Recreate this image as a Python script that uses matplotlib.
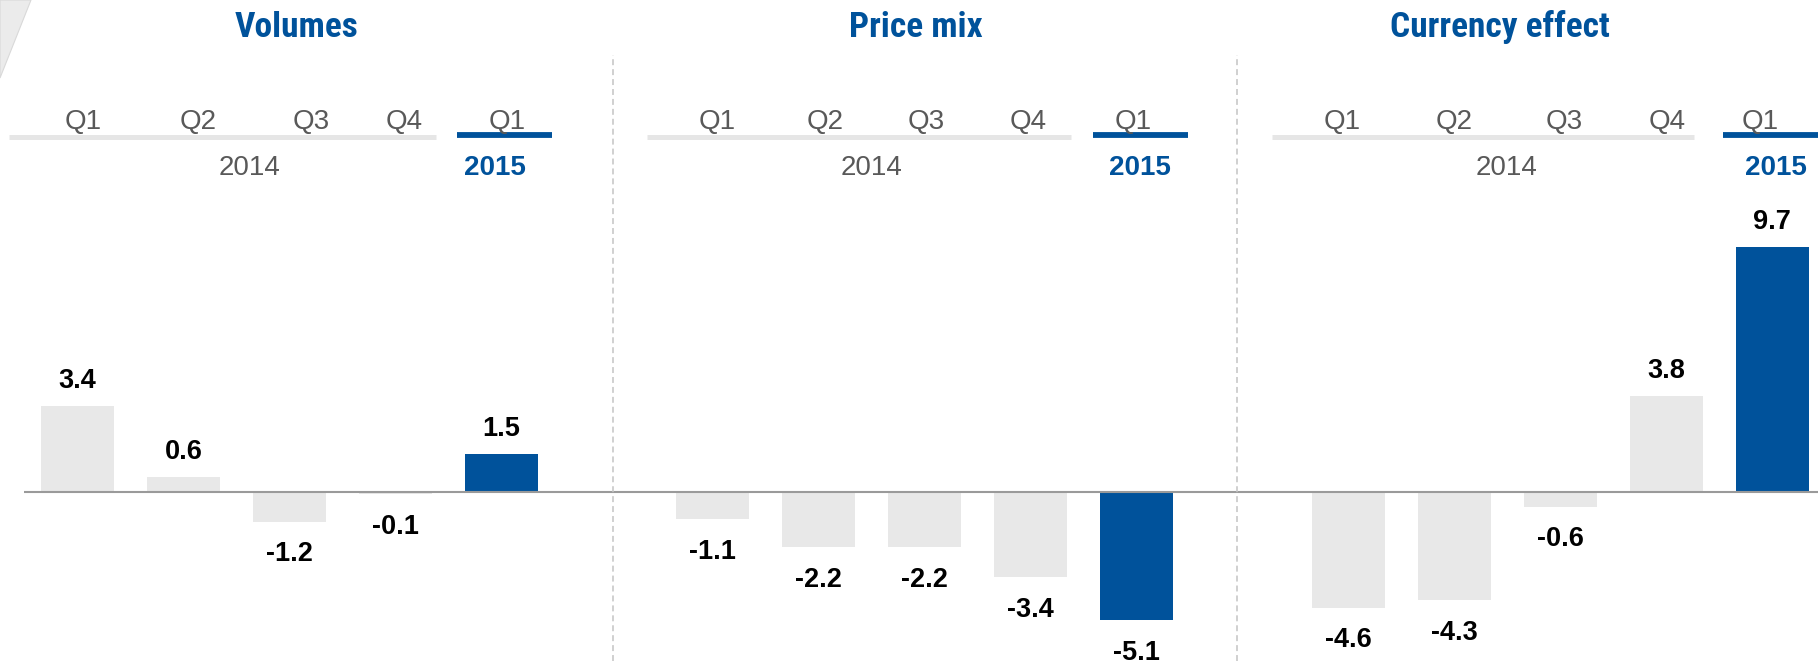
import matplotlib
matplotlib.use("Agg")
import matplotlib.pyplot as plt
from matplotlib.lines import Line2D
from matplotlib.patches import Polygon

# data
titles = ["Volumes", "Price mix", "Currency effect"]
quarters = ["Q1", "Q2", "Q3", "Q4", "Q1"]
years = ["2014", "2015"]
volumes = [3.4, 0.6, -1.2, -0.1, 1.5]
price_mix = [-1.1, -2.2, -2.2, -3.4, -5.1]
currency = [-4.6, -4.3, -0.6, 3.8, 9.7]
series = [volumes, price_mix, currency]

W, H = 1818, 661
GREY_BAR = "#e8e8e8"
BLUE = "#00529b"
TXT = "#595959"
NARROW = ["Roboto Condensed", "Liberation Sans", "DejaVu Sans"]
SANS = ["Liberation Sans", "DejaVu Sans"]

# layout, in pixels of the output image
bounds = [24, 613, 1237, 1818]          # panel edges
first_center = [77.5, 712.5, 1348.3]    # centre of first bar per panel
step = 106.0                            # px between bars
px_per_unit = 25.2
base_y = 491.7                          # baseline row (from top)

title_x = [296.5, 915.7, 1500]
q_x = [[83, 198, 311, 404, 507],
       [717, 825, 926, 1028, 1133],
       [1342, 1454, 1564, 1667, 1760]]
y2014_x = [250, 872, 1507]
y2015_x = [495, 1140, 1775.5]
grey_line = [(9, 436), (647, 1071), (1272, 1694)]
blue_line = [(457, 552), (1093, 1188), (1723, 1818)]

fig = plt.figure(figsize=(W / 100, H / 100), dpi=100)

def fx(px):
    return px / W

def fy(py):
    return 1 - py / H

# little slide decoration in the top left corner
fig.add_artist(Polygon([(0, 1), (fx(31), 1), (0, fy(78))], closed=True,
                       transform=fig.transFigure, facecolor="#ebebeb",
                       edgecolor="#d9d9d9", lw=0.8))

ymin = -(H - base_y) / px_per_unit
ymax = base_y / px_per_unit

for k, vals in enumerate(series):
    bl, br = bounds[k], bounds[k + 1]
    ax = fig.add_axes([fx(bl), 0, fx(br - bl), 1])
    c0 = first_center[k]
    ax.set_xlim((bl - c0) / step, (br - c0) / step)
    ax.set_ylim(ymin, ymax)
    ax.axis("off")

    x = list(range(len(vals)))
    colors = [GREY_BAR] * (len(vals) - 1) + [BLUE]
    ax.bar(x, vals, width=0.69, color=colors, zorder=2)
    ax.axhline(0, color="#9a9a9a", lw=1.5, zorder=3)

    for i, v in zip(x, vals):
        if v >= 0:
            ax.annotate(f"{v:.1f}", (i, v), xytext=(0, 13), textcoords="offset points",
                        ha="center", va="baseline", fontsize=19.5,
                        fontweight="bold", family=SANS, color="black")
        else:
            ax.annotate(f"{v:.1f}", (i, v), xytext=(0, -14), textcoords="offset points",
                        ha="center", va="top", fontsize=19.5,
                        fontweight="bold", family=SANS, color="black")

    if k > 0:
        fig.add_artist(Line2D([fx(bl), fx(bl)], [0, fy(55)], transform=fig.transFigure,
                              color="#c4c4c4", lw=1.1, linestyle=(0, (3.9, 2.6))))

    # header
    fig.text(fx(title_x[k]), fy(36.7), titles[k], ha="center", va="baseline",
             fontsize=25.5, fontweight="bold", family=NARROW, color=BLUE)
    for q, qx in zip(quarters, q_x[k]):
        fig.text(fx(qx), fy(129.5), q, ha="center", va="baseline",
                 fontsize=20, family=SANS, color=TXT)
    g0, g1 = grey_line[k]
    fig.add_artist(Line2D([fx(g0), fx(g1)], [fy(136.5), fy(136.5)],
                          transform=fig.transFigure, color="#e6e6e6", lw=3.6,
                          solid_capstyle="butt"))
    b0, b1 = blue_line[k]
    fig.add_artist(Line2D([fx(b0), fx(b1)], [fy(134.5), fy(134.5)],
                          transform=fig.transFigure, color=BLUE, lw=4.2,
                          solid_capstyle="butt"))
    fig.text(fx(y2014_x[k]), fy(175), years[0], ha="center", va="baseline",
             fontsize=20, family=SANS, color=TXT)
    fig.text(fx(y2015_x[k]), fy(175), years[1], ha="center", va="baseline",
             fontsize=20, fontweight="bold", family=SANS, color=BLUE)

fig.savefig("out.png", dpi=100, facecolor="white")
